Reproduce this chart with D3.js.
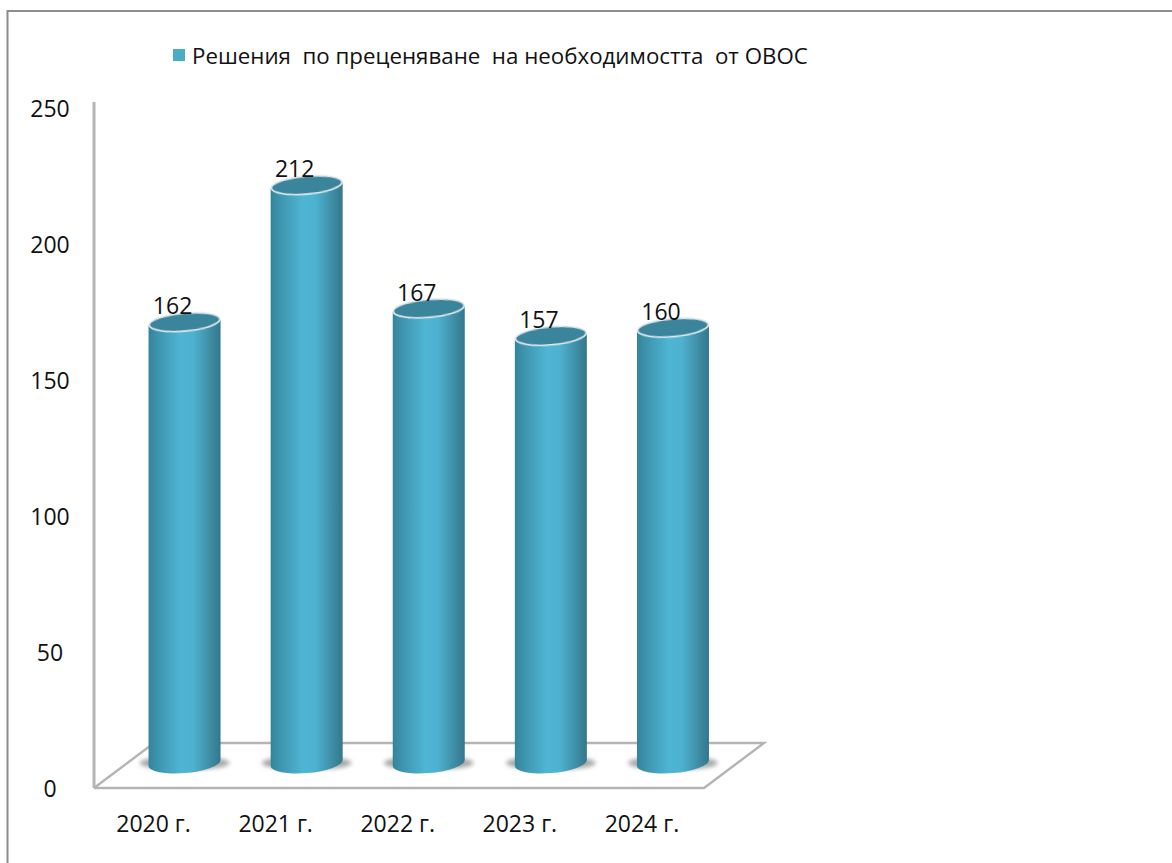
<!DOCTYPE html>
<html><head><meta charset="utf-8">
<script src="https://d3js.org/d3.v7.min.js"></script>
<style>html,body{margin:0;padding:0;background:#fff}svg{display:block}text{font-family:"Open Sans",sans-serif;fill:#111}</style>
</head><body><div id="c"></div>
<script>
const categories=["2020 г.","2021 г.","2022 г.","2023 г.","2024 г."];
const values=[162,212,167,157,160];
const yTicks=[0,50,100,150,200,250];
const seriesName="Решения  по преценяване  на необходимостта  от ОВОС";
const W=1172,H=863;
const svg=d3.select("#c").append("svg").attr("width",W).attr("height",H);
const defs=svg.append("defs");
const g=defs.append("linearGradient").attr("id","cyl");
[[0,"#33849b"],[0.12,"#3d93ac"],[0.45,"#4fb5d4"],[0.62,"#4db2d1"],[0.85,"#3f8ea6"],[1,"#33778c"]].forEach(d=>g.append("stop").attr("offset",d[0]).attr("stop-color",d[1]));
defs.append("filter").attr("id","soft").append("feGaussianBlur").attr("stdDeviation",0.6);
defs.append("filter").attr("id","shb").append("feGaussianBlur").attr("stdDeviation",2.2);

svg.append("path").attr("d",d3.line()([[7.5,H],[7.5,11],[W,11]])).attr("fill","none").attr("stroke","#8c8c8c").attr("stroke-width",2);

const y=d3.scaleLinear().domain([0,250]).range([766,81]);
const yLabel=d3.scaleLinear().domain([0,250]).range([789,109]);
const x=d3.scaleBand().domain(categories).range([123.5,734]);
const bw=72,ry=9,ryBase=10,tilt=-5;
const wall="#b4b4b4";
const floor=[[94,788],[704,788],[764,743],[154,743],[94,788]];
svg.append("path").attr("d",d3.line()(floor)).attr("fill","#fff").attr("stroke",wall).attr("stroke-width",2.4).attr("stroke-linejoin","miter");
svg.append("line").attr("x1",94).attr("x2",94).attr("y1",102).attr("y2",788).attr("stroke",wall).attr("stroke-width",3);

svg.selectAll("text.yl").data(yTicks).join("text").attr("class","yl")
 .attr("x",50).attr("y",d=>yLabel(d)).attr("dy","0.36em").attr("text-anchor","middle").attr("font-size",23).text(d=>d);
svg.selectAll("text.xl").data(categories).join("text").attr("class","xl")
 .attr("x",d=>x(d)+x.bandwidth()/2-31).attr("y",824).attr("dy","0.36em").attr("text-anchor","middle").attr("font-size",23).text(d=>d);

const base=y(0)-3;
const bars=svg.selectAll("g.bar").data(values).join("g").attr("class","bar")
 .attr("transform",(d,i)=>`translate(${x(categories[i])+x.bandwidth()/2},0)`);
bars.append("ellipse").attr("cx",0).attr("cy",763).attr("rx",bw/2+9).attr("ry",7).attr("fill","#a8a8a8").attr("filter","url(#shb)");
const cyl=(top)=>{const r=bw/2,d=3;
 return `M${-r},${top+d}L${-r},${base+d}A${r},${ryBase} ${tilt} 0 0 ${r},${base-d}L${r},${top-d}A${r},${ry} ${tilt} 0 1 ${-r},${top+d}Z`;};
bars.append("path").attr("d",d=>cyl(y(d))).attr("fill","url(#cyl)");
bars.append("ellipse").attr("cx",0).attr("cy",d=>y(d)).attr("rx",bw/2-0.5).attr("ry",ry)
 .attr("transform",d=>`rotate(${tilt} 0 ${y(d)})`)
 .attr("fill","#3a859c").attr("stroke","#dfeaee").attr("stroke-width",1.6).attr("filter","url(#soft)");
bars.append("text").attr("x",-12).attr("y",d=>y(d)-16).attr("dy","0.36em").attr("text-anchor","middle").attr("font-size",23).text(d=>d);

svg.append("rect").attr("x",173).attr("y",49).attr("width",12).attr("height",12).attr("fill","#4bacc6");
svg.append("text").attr("x",192).attr("y",56).attr("dy","0.36em").attr("font-size",22.3).style("white-space","pre").text(seriesName);
</script></body></html>
